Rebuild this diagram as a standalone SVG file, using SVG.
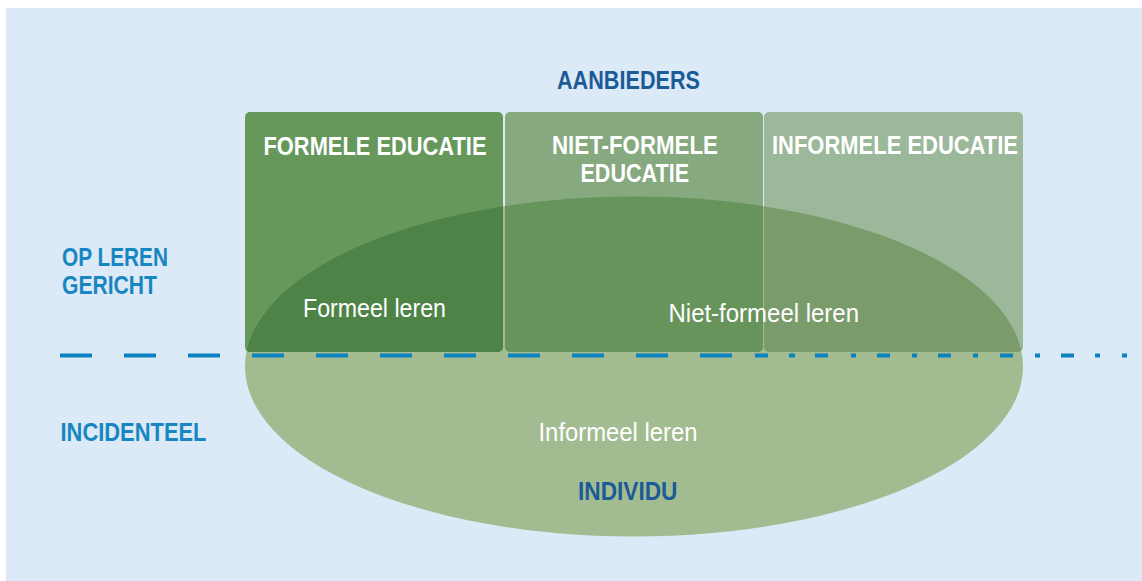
<svg xmlns="http://www.w3.org/2000/svg" width="1142" height="581" viewBox="0 0 1142 581">
<style>
text{font-family:"Liberation Sans Narrow","Liberation Sans",Arial,sans-serif;font-size:25.5px;font-weight:bold}
.hd{fill:#ffffff}
.lb{fill:#1786c1}
.dk{fill:#1b5b97}
.tx{fill:#ffffff;font-weight:normal;font-size:26px}
.dash{stroke:#0b83bf;stroke-width:4;fill:none}
</style>
<defs>
<clipPath id="ell"><ellipse cx="634" cy="366.5" rx="389" ry="170"/></clipPath>
</defs>
<rect x="6" y="8" width="1136" height="573" fill="#dce9f6"/>
<g id="individu">
<ellipse cx="634" cy="366.5" rx="389" ry="170" fill="#a3bb91"/>
</g>
<g id="formele-educatie">
<rect x="245" y="112" width="258" height="240" rx="5" fill="#66975b"/>
<rect x="245" y="112" width="258" height="240" rx="5" fill="#4e8347" clip-path="url(#ell)"/>
<text class="hd" x="263.5" y="155" textLength="223" lengthAdjust="spacingAndGlyphs">FORMELE EDUCATIE</text>
</g>
<g id="niet-formele-educatie">
<rect x="505" y="112" width="258" height="240" rx="5" fill="#86a97f"/>
<rect x="505" y="112" width="258" height="240" rx="5" fill="#67945b" clip-path="url(#ell)"/>
<text class="hd" x="552" y="154" textLength="166" lengthAdjust="spacingAndGlyphs">NIET-FORMELE</text>
<text class="hd" x="580.5" y="182" textLength="108.5" lengthAdjust="spacingAndGlyphs">EDUCATIE</text>
</g>
<g id="informele-educatie">
<rect x="764" y="112" width="259" height="240" rx="5" fill="#9bb89a"/>
<rect x="764" y="112" width="259" height="240" rx="5" fill="#7a9c6b" clip-path="url(#ell)"/>
<text class="hd" x="772" y="154" textLength="246" lengthAdjust="spacingAndGlyphs">INFORMELE EDUCATIE</text>
</g>
<g id="divider">
<line class="dash" x1="60" y1="355.5" x2="732" y2="355.5" stroke-dasharray="32 32"/>
<path class="dash" d="M755 355.5H768M789 355.5H795M815 355.5H828M851 355.5H856M877 355.5H890M912 355.5H917M938 355.5H951M973 355.5H978M1000 355.5H1013M1035 355.5H1040M1061 355.5H1074M1095 355.5H1100M1122 355.5H1127"/>
</g>
<g id="learning-labels">
<text class="tx" x="303" y="317" textLength="143" lengthAdjust="spacingAndGlyphs">Formeel leren</text>
<text class="tx" x="668.5" y="322" textLength="190.5" lengthAdjust="spacingAndGlyphs">Niet-formeel leren</text>
<text class="tx" x="538.5" y="441" textLength="159" lengthAdjust="spacingAndGlyphs">Informeel leren</text>
<text class="dk" x="578" y="500" textLength="99.5" lengthAdjust="spacingAndGlyphs">INDIVIDU</text>
</g>
<g id="axis-labels">
<text class="dk" x="557" y="89" textLength="143" lengthAdjust="spacingAndGlyphs">AANBIEDERS</text>
<text class="lb" x="62" y="265.5" textLength="106" lengthAdjust="spacingAndGlyphs">OP LEREN</text>
<text class="lb" x="62" y="294" textLength="95" lengthAdjust="spacingAndGlyphs">GERICHT</text>
<text class="lb" x="60.5" y="441" textLength="146" lengthAdjust="spacingAndGlyphs">INCIDENTEEL</text>
</g>
</svg>
